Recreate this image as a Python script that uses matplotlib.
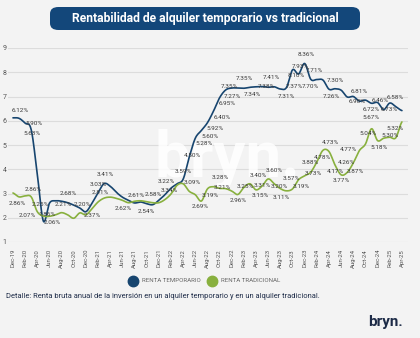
import numpy as np
import pandas as pd
import matplotlib
matplotlib.use("Agg")
import matplotlib.pyplot as plt
from matplotlib.patches import FancyBboxPatch
from matplotlib.lines import Line2D

# Monthly series, Dec-19 .. Apr-25
months = pd.date_range("2019-12-01", periods=65, freq="MS").strftime("%b-%y").tolist()

renta_temporario = [
    6.12, 6.10, 5.90, 5.63, 3.80, 1.86, 2.60, 2.70, 2.68, 2.62, 2.52, 2.40, 2.25,
    2.60, 3.03, 3.41, 3.30, 3.05, 2.85, 2.72, 2.61, 2.65, 2.58, 2.54, 2.72, 2.95,
    3.22, 3.40, 3.59, 4.50, 5.28, 5.60, 5.92, 6.40, 6.95, 7.27, 7.35, 7.35, 7.34,
    7.38, 7.40, 7.41, 7.38, 7.40, 7.31, 7.37, 8.10, 7.93, 8.36, 7.71, 7.70, 7.68,
    7.30, 7.32, 7.26, 6.98, 7.00, 6.81, 6.85, 6.72, 6.75, 6.46, 6.73, 6.58, 6.42,
]
renta_tradicional = [
    3.02, 2.86, 2.90, 2.86, 2.25, 2.07, 2.06, 2.12, 2.21, 2.12, 1.98, 2.20, 2.12,
    2.37, 2.65, 2.81, 2.85, 2.80, 2.72, 2.62, 2.68, 2.70, 2.66, 2.62, 2.62, 2.75,
    2.98, 3.34, 3.40, 3.09, 2.95, 2.69, 3.19, 3.28, 3.21, 3.20, 3.10, 2.96, 3.25,
    3.40, 3.15, 3.31, 3.60, 3.40, 3.20, 3.11, 3.19, 3.57, 3.73, 3.88, 4.30, 4.78,
    4.73, 4.17, 3.77, 3.87, 4.26, 4.77, 5.04, 5.67, 5.18, 5.28, 5.32, 5.30, 5.95,
]

# value labels: month index -> text offset (points)
labels_temporario = {
    0: (5, 5.5), 2: (6.5, 0), 3: (0.7, -3), 5: (2.6, 5.1), 8: (4.6, 5.9),
    14: (0, 6.3), 15: (0.6, 6.2), 20: (1, 5.7), 22: (4.5, 6.3), 23: (-4.9, -4.6),
    26: (-3.6, 5), 28: (0, 5.8), 29: (2, 1), 30: (6, -4), 31: (6, -4.6),
    32: (5.3, -4.5), 33: (6, -5), 34: (5.3, -4.4), 35: (5.2, -4.9), 36: (-1.4, 0.9),
    37: (5, 6.6), 38: (5.8, -4.7), 41: (6.8, 6.3), 42: (-1.2, 0.4), 44: (4.7, -5.6),
    45: (6, 0.5), 46: (2.4, -4.3), 47: (1.6, 5.2), 48: (1.4, 6.3), 49: (2.9, 6.3),
    50: (-4.3, -5), 52: (4.9, 6.2), 54: (-7.2, -4.6), 55: (6.9, -3.5), 57: (0, 6.7),
    59: (0, -4.7), 61: (-2.9, 6.3), 62: (-0.7, -4.9), 63: (-0.7, 6.4),
}
labels_tradicional = {
    1: (-1, -4.6), 3: (1.4, 5.5), 4: (2, 5.5), 5: (-11.8, 0.7), 6: (1.8, -4.2),
    8: (1, 6.2), 11: (1.5, 6.4), 13: (0, -4.5), 15: (-3, 3.7), 19: (-4, -4.5),
    27: (-5.8, -3.5), 29: (2, 6), 31: (-1, -4.3), 32: (1.7, -4.4), 33: (4.6, 6.3),
    34: (1.7, 1), 37: (0, -4.7), 38: (0.7, 0.4), 39: (5.8, 6.3), 40: (2.9, -3.7),
    41: (0, 0.7), 42: (4.5, 5.8), 44: (-1, 1.2), 45: (-4, -4.5), 46: (6, 1.4),
    47: (-5.6, 1.2), 48: (6.5, 2), 49: (0, 6.6), 51: (0, -4.8), 52: (1.3, 6.2),
    53: (0.5, -4.9), 54: (0, -4.4), 55: (5.5, 0.4), 56: (-4.7, 0), 57: (-7.6, 0.5),
    58: (1.7, 7.3), 59: (-0.6, 7.8), 60: (1.4, -4.6), 62: (3.6, 6), 63: (-4.4, 1.3),
}

series_names = ["RENTA TEMPORARIO", "RENTA TRADICIONAL"]
BLUE = "#17456f"
GREEN = "#88b03e"
BG = "#f3f3f3"
NAVY = "#13477a"
TEXT_DARK = "#1d2b47"


def catmull_rom(values, steps=14):
    """Smooth curve through every point (x in month-index units)."""
    y = np.asarray(values, dtype=float)
    p = np.concatenate([[y[0]], y, [y[-1]]])
    xs, ys = [], []
    t = np.linspace(0, 1, steps, endpoint=False)
    for i in range(len(y) - 1):
        p0, p1, p2, p3 = p[i], p[i + 1], p[i + 2], p[i + 3]
        seg = 0.5 * (2 * p1 + (-p0 + p2) * t + (2 * p0 - 5 * p1 + 4 * p2 - p3) * t ** 2
                     + (-p0 + 3 * p1 - 3 * p2 + p3) * t ** 3)
        xs.append(i + t)
        ys.append(seg)
    xs.append([len(y) - 1])
    ys.append([y[-1]])
    return np.concatenate(xs), np.concatenate(ys)


plt.rcParams["font.family"] = ["Roboto", "DejaVu Sans"]

fig = plt.figure(figsize=(4.2, 3.38), dpi=100, facecolor=BG)
W, H = 420, 338

# title banner
banner = FancyBboxPatch((50 / W, 1 - 30 / H), 310 / W, 23 / H,
                        boxstyle="round,pad=0,rounding_size=0.02",
                        transform=fig.transFigure, facecolor=NAVY,
                        edgecolor="none")
fig.patches.append(banner)
fig.text(205 / W, 1 - 18.5 / H, "Rentabilidad de alquiler temporario vs tradicional",
         ha="center", va="center", color="white", fontsize=8.7, fontweight="bold")

ax = fig.add_axes([8 / W, 1 - 242 / H, 400 / W, 194 / H])
ax.set_facecolor(BG)
n = len(months)
ax.set_xlim(-0.82, 65.0)
ax.set_ylim(1, 9)
ax.set_yticks(range(1, 10))
ax.yaxis.grid(True, color="#dcdcdc", linewidth=0.8)
ax.set_axisbelow(True)
for s in ax.spines.values():
    s.set_visible(False)
ax.tick_params(axis="y", length=0, pad=1, labelsize=5, labelcolor="#555555")
ax.set_xticks(range(0, n, 2))
ax.set_xticklabels(months[::2], rotation=90, fontsize=4.3, color="#555555")
ax.tick_params(axis="x", length=0, pad=5)

# brand watermark across the plot area
ax.text(35.3, 4.4, "bryn.", ha="center", va="center", fontsize=46,
        fontweight="bold", color="white", alpha=0.85, zorder=1)

for vals, lab, color in [(renta_temporario, labels_temporario, BLUE),
                         (renta_tradicional, labels_tradicional, GREEN)]:
    sx, sy = catmull_rom(vals)
    ax.plot(sx, sy, color=color, linewidth=1.2, zorder=3, solid_capstyle="round")
    for i, (dx, dy) in lab.items():
        ax.annotate(f"{vals[i]:.2f}%", (i, vals[i]), xytext=(dx, dy),
                    textcoords="offset points", ha="center", va="center",
                    fontsize=4.6, color="#3a3a3a", zorder=4)

# legend
for xc, name, color in [(133, series_names[0], BLUE), (212, series_names[1], GREEN)]:
    fig.add_artist(Line2D([xc / W], [1 - 281 / H], marker="o", markersize=7.5,
                          color=color, linestyle="none",
                          transform=fig.transFigure))
    fig.text((xc + 9) / W, 1 - 281 / H, name, ha="left", va="center",
             fontsize=4.4, color="#666666")

fig.text(6 / W, 1 - 297 / H,
         "Detalle: Renta bruta anual de la inversión en un alquiler temporario y en un alquiler tradicional.",
         ha="left", va="center", fontsize=5.4, color=TEXT_DARK)
fig.text(403 / W, 1 - 322 / H, "bryn.", ha="right", va="center", fontsize=11,
         fontweight="bold", color=TEXT_DARK)

fig.savefig("out.png", dpi=100, facecolor=BG)
